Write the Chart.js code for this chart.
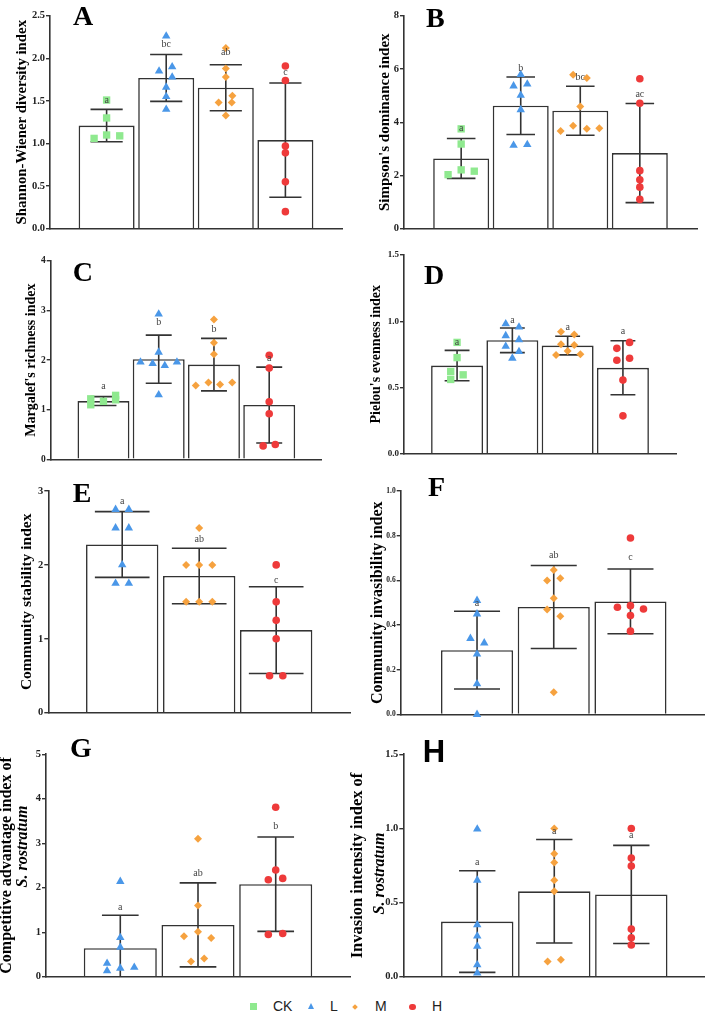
<!DOCTYPE html>
<html>
<head>
<meta charset="utf-8">
<script src="https://cdn.jsdelivr.net/npm/chart.js@4.4.1/dist/chart.umd.min.js"></script>
<style>
  html, body { margin: 0; padding: 0; background: #fff; }
  body { width: 709px; height: 1014px; position: relative; overflow: hidden; }
  .panel { position: absolute; }
  .lab { position: absolute; top: 998px; font-family: 'Liberation Sans', Arial, sans-serif; font-size: 14px; line-height: 17px; color: #222; }
  .sym { position: absolute; }
</style>
</head>
<body>
<div id="legend"></div>
<script>
// groups and marker styles
const groups = ['CK', 'L', 'M', 'H']
const groupColors = ['#8fe98f', '#4a97e8', '#f6a23f', '#ee3a3a']
const groupStyles = ['rect', 'triangle', 'rectRot', 'circle']
const groupRadius = [5.2, 4.9, 4, 3.8]

// A - Shannon-Wiener diversity index
const aGroups = ['CK', 'L', 'M', 'H']
const aMeans = [1.21, 1.77, 1.655, 1.04]
const aSd = [0.19, 0.275, 0.27, 0.67]
const aPoints = [[1.51, 1.30, 1.10, 1.06, 1.09], [2.26, 1.85, 1.90, 1.78, 1.66, 1.55, 1.40], [2.12, 1.88, 1.78, 1.48, 1.56, 1.48, 1.33], [1.91, 1.74, 0.97, 0.89, 0.55, 0.20]]
const aJitter = [[0, 0, 0, -0.21, 0.22], [0, -0.12, 0.1, 0.1, 0, 0, 0], [0, 0, 0, -0.12, 0.11, 0.1, 0], [0, 0, 0, 0, 0, 0]]
const aLetters = ['a', 'bc', 'ab', 'c']
const aLetterY = [1.51, 2.16, 2.07, 1.84]
const aTicks = ['0.0', '0.5', '1.0', '1.5', '2.0', '2.5']

// B - Simpson's dominance index
const bGroups = ['CK', 'L', 'M', 'H']
const bMeans = [2.64, 4.62, 4.43, 2.84]
const bSd = [0.75, 1.08, 0.92, 1.86]
const bPoints = [[3.75, 3.18, 2.03, 2.21, 2.16], [5.79, 5.36, 5.43, 5.01, 4.47, 3.13, 3.16], [5.78, 5.66, 4.59, 3.87, 3.67, 3.75, 3.77], [5.63, 4.71, 2.18, 1.84, 1.56, 1.10]]
const bJitter = [[0, 0, -0.22, 0, 0.22], [0, -0.12, 0.11, 0, 0, -0.12, 0.11], [-0.12, 0.11, 0, -0.12, -0.33, 0.11, 0.32], [0, 0, 0, 0, 0, 0]]
const bLetters = ['a', 'b', 'bc', 'ac']
const bLetterY = [3.75, 6.04, 5.67, 5.04]
const bTicks = ['0', '2', '4', '6', '8']

// C - Margalef's richness index
const cGroups = ['CK', 'L', 'M', 'H']
const cMeans = [1.175, 2.02, 1.91, 1.095]
const cSd = [0.09, 0.485, 0.53, 0.765]
const cPoints = [[1.10, 1.22, 1.17, 1.20, 1.29], [2.93, 2.16, 1.96, 1.93, 1.89, 1.96, 1.30], [2.82, 2.35, 2.12, 1.49, 1.55, 1.51, 1.55], [2.10, 1.84, 1.16, 0.92, 0.27, 0.30]]
const cJitter = [[-0.23, -0.23, 0, 0.22, 0.22], [0, 0, -0.33, -0.11, 0.11, 0.33, 0], [0, 0, 0, -0.33, -0.1, 0.11, 0.33], [0, 0, 0, 0, -0.11, 0.11]]
const cLetters = ['a', 'b', 'b', 'a']
const cLetterY = [1.47, 2.76, 2.62, 2.03]
const cTicks = ['0', '1', '2', '3', '4']

// D - Pielou's evenness index
const dGroups = ['CK', 'L', 'M', 'H']
const dMeans = [0.665, 0.856, 0.816, 0.648]
const dSd = [0.115, 0.093, 0.07, 0.204]
const dPoints = [[0.84, 0.725, 0.62, 0.56, 0.595], [0.98, 0.955, 0.89, 0.86, 0.81, 0.77, 0.72], [0.92, 0.90, 0.825, 0.82, 0.775, 0.745, 0.75], [0.795, 0.84, 0.705, 0.72, 0.555, 0.285]]
const dJitter = [[0, 0, -0.115, -0.115, 0.11], [-0.12, 0.12, -0.12, 0.12, -0.12, 0.12, 0], [-0.12, 0.12, -0.12, 0.12, 0, -0.21, 0.23], [-0.11, 0.12, -0.11, 0.12, 0, 0]]
const dLetters = ['a', 'a', 'a', 'a']
const dLetterY = [0.84, 1.01, 0.95, 0.92]
const dTicks = ['0.0', '0.5', '1.0', '1.5']

// E - Community stability index
const eGroups = ['L', 'M', 'H']
const eMeans = [2.276, 1.85, 1.118]
const eSd = [0.445, 0.375, 0.587]
const ePoints = [[2.75, 2.75, 2.5, 2.5, 2.0, 1.75, 1.75], [2.5, 2.0, 2.0, 2.0, 1.5, 1.5, 1.5], [2.0, 1.5, 1.25, 1.0, 0.5, 0.5]]
const eJitter = [[-0.086, 0.086, -0.086, 0.086, 0, -0.086, 0.086], [0, -0.17, 0, 0.17, -0.17, 0, 0.17], [0, 0, 0, 0, -0.086, 0.086]]
const eLetters = ['a', 'ab', 'c']
const eLetterY = [2.857, 2.344, 1.786]
const eTicks = ['0', '1', '2', '3']

// F - Community invasibility index
const fGroups = ['L', 'M', 'H']
const fMeans = [0.288, 0.481, 0.506]
const fSd = [0.174, 0.186, 0.145]
const fPoints = [[0.51, 0.45, 0.34, 0.32, 0.27, 0.137, 0.0], [0.647, 0.60, 0.61, 0.52, 0.47, 0.44, 0.10], [0.79, 0.48, 0.487, 0.472, 0.443, 0.373]]
const fJitter = [[0, 0, -0.086, 0.094, 0, 0, 0], [0, -0.086, 0.086, 0, -0.086, 0.086, 0], [0, -0.17, 0, 0.17, 0, 0]]
const fLetters = ['a', 'ab', 'c']
const fLetterY = [0.498, 0.711, 0.704]
const fTicks = ['0.0', '0.2', '0.4', '0.6', '0.8', '1.0']

// G - Competitive advantage index of S. rostratum
const gGroups = ['L', 'M', 'H']
const gMeans = [0.64, 1.165, 2.08]
const gSd = [0.74, 0.945, 1.06]
const gPoints = [[2.14, 0.88, 0.66, 0.30, 0.13, 0.19, 0.21], [3.10, 1.60, 1.01, 0.91, 0.87, 0.34, 0.41], [3.81, 2.40, 2.18, 2.21, 0.95, 0.97]]
const gJitter = [[0, 0, 0, -0.17, -0.17, 0, 0.18], [0, 0, 0, -0.18, 0.17, -0.09, 0.08], [0, 0, -0.095, 0.09, -0.095, 0.09]]
const gLetters = ['a', 'ab', 'b']
const gLetterY = [1.55, 2.33, 3.37]
const gTicks = ['0', '1', '2', '3', '4', '5']

// H - Invasion intensity index of S. rostratum
const hGroups = ['L', 'M', 'H']
const hMeans = [0.372, 0.576, 0.555]
const hSd = [0.343, 0.349, 0.331]
const hPoints = [[0.996, 0.651, 0.35, 0.274, 0.205, 0.08, 0.025], [1.0, 0.829, 0.771, 0.651, 0.577, 0.102, 0.114], [1.0, 0.80, 0.746, 0.321, 0.263, 0.214]]
const hJitter = [[0, 0, 0, 0, 0, 0, 0], [0, 0, 0, 0, 0, -0.086, 0.086], [0, 0, 0, 0, 0, 0]]
const hLetters = ['a', 'a', 'a']
const hLetterY = [0.771, 0.98, 0.954]
const hTicks = ['0.0', '0.5', '1.0', '1.5']

const serif = "'Liberation Serif', 'Times New Roman', serif"
const sans = "'Liberation Sans', Arial, sans-serif"
const ink = '#333'

// draws significance letters, panel tag and the italic second title line
const annotate = {
    id: 'annotate',
    afterDatasetsDraw(chart, args, o) {
        const { ctx, chartArea } = chart
        const xs = chart.scales.x, ys = chart.scales.y
        ctx.save()
        ctx.fillStyle = '#444'
        ctx.font = `10px ${serif}`
        ctx.textAlign = 'center'
        ctx.textBaseline = 'middle'
        o.letters.forEach((t, i) => ctx.fillText(t, xs.getPixelForValue(i + 1), ys.getPixelForValue(o.letterY[i])))

        ctx.fillStyle = '#000'
        ctx.font = o.tagFont
        ctx.textAlign = 'left'
        ctx.textBaseline = 'alphabetic'
        ctx.fillText(o.tag, chartArea.left + o.tagDx, chartArea.top + o.tagDy)

        if (o.sub) {
            ctx.translate(o.sub.x, (chartArea.top + chartArea.bottom) / 2 + o.sub.dy)
            ctx.rotate(-Math.PI / 2)
            ctx.textBaseline = 'middle'
            ctx.textAlign = 'center'
            ctx.font = `italic bold ${o.sub.size}px ${serif}`
            ctx.fillText('S. rostratum', 0, 0)
        }
        ctx.restore()
    }
}

const makePanel = (p) => {
    const g = p.geo
    const div = document.createElement('div')
    div.className = 'panel'
    div.style.left = g.left + 'px'
    div.style.top = g.top + 'px'
    const canvas = document.createElement('canvas')
    canvas.width = g.width
    canvas.height = g.height
    canvas.style.width = g.width + 'px'
    canvas.style.height = g.height + 'px'
    div.appendChild(canvas)
    document.body.appendChild(div)

    const datasets = []
    datasets.push({
        type: 'bar',
        data: p.means.map((m, i) => ({ x: i + 1, y: m })),
        backgroundColor: '#fff',
        borderColor: ink,
        borderWidth: 1.6,
        barPercentage: 0.94,
        categoryPercentage: 1,
        order: 3
    })

    // error bars as a broken line
    const err = []
    p.means.forEach((m, i) => {
        const x = i + 1, lo = m - p.sd[i], hi = m + p.sd[i], c = p.cap
        err.push({ x, y: lo }, { x, y: hi }, { x, y: null },
            { x: x - c, y: hi }, { x: x + c, y: hi }, { x, y: null },
            { x: x - c, y: lo }, { x: x + c, y: lo }, { x, y: null })
    })
    datasets.push({
        type: 'line',
        data: err,
        borderColor: ink,
        borderWidth: 1.6,
        pointRadius: 0,
        spanGaps: false,
        tension: 0,
        order: 2
    })

    p.points.forEach((vals, i) => {
        const k = groups.indexOf(p.groups[i])
        datasets.push({
            type: 'scatter',
            data: vals.map((v, j) => ({ x: i + 1 + p.jitter[i][j], y: v })),
            pointStyle: groupStyles[k],
            pointRadius: groupRadius[k],
            backgroundColor: groupColors[k],
            borderWidth: 0,
            clip: false,
            order: 1
        })
    })

    new Chart(canvas.getContext('2d'), {
        type: 'bar',
        data: { datasets },
        plugins: [annotate],
        options: {
            responsive: false,
            animation: false,
            events: [],
            layout: {
                padding: { left: 0, top: g.yTop - g.top, right: g.left + g.width - g.x1, bottom: g.top + g.height - g.yBot }
            },
            plugins: {
                legend: { display: false },
                tooltip: { enabled: false },
                annotate: { letters: p.letters, letterY: p.letterY, tag: p.tag, tagFont: p.tagFont, tagDx: p.tagDx, tagDy: p.tagDy, sub: p.sub }
            },
            scales: {
                x: {
                    type: 'linear',
                    min: p.xMin,
                    max: p.xMax,
                    offset: false,
                    afterBuildTicks: (s) => { s.ticks = p.groups.map((_, i) => ({ value: i + 1 })) },
                    afterFit: (s) => { s.height = 0 },
                    ticks: { display: false },
                    grid: { display: false },
                    border: { display: true, color: ink, width: 1.6 }
                },
                y: {
                    min: 0,
                    max: parseFloat(p.ticks[p.ticks.length - 1]),
                    afterBuildTicks: (s) => { s.ticks = p.ticks.map(t => ({ value: parseFloat(t) })) },
                    afterFit: (s) => { s.width = g.x0 - g.left },
                    ticks: {
                        callback: (v, i) => p.ticks[i],
                        font: { family: serif, weight: 'bold', size: p.tickSize },
                        color: '#222',
                        padding: 1
                    },
                    grid: { display: true, drawOnChartArea: false, drawTicks: true, tickLength: 4, color: ink, lineWidth: 1.4 },
                    border: { display: true, color: ink, width: 1.6 },
                    title: {
                        display: true,
                        text: p.title,
                        color: '#000',
                        font: { family: serif, weight: 'bold', size: p.titleSize, lineHeight: 1 },
                        padding: { top: p.titleX - p.titleSize / 2, bottom: 0 }
                    }
                }
            }
        }
    })
}

const panels = [
    { tag: 'A', groups: aGroups, means: aMeans, sd: aSd, points: aPoints, jitter: aJitter, letters: aLetters, letterY: aLetterY, ticks: aTicks,
      title: 'Shannon-Wiener diversity index', titleSize: 14.8, titleX: 21.7, tickSize: 10.5, cap: 0.27, xMin: 0.05, xMax: 4.95,
      tagFont: `bold 28px ${serif}`, tagDx: 23, tagDy: 9.5,
      geo: { left: 0, top: 0, width: 355, height: 236, x0: 50, x1: 342, yTop: 15.7, yBot: 230.7 } },
    { tag: 'B', groups: bGroups, means: bMeans, sd: bSd, points: bPoints, jitter: bJitter, letters: bLetters, letterY: bLetterY, ticks: bTicks,
      title: "Simpson's dominance index", titleSize: 15, titleX: 30, tickSize: 10.5, cap: 0.24, xMin: 0.04, xMax: 4.96,
      tagFont: `bold 28px ${serif}`, tagDx: 22, tagDy: 11,
      geo: { left: 355, top: 0, width: 354, height: 236, x0: 404, x1: 697, yTop: 15.7, yBot: 230.7 } },
    { tag: 'C', groups: cGroups, means: cMeans, sd: cSd, points: cPoints, jitter: cJitter, letters: cLetters, letterY: cLetterY, ticks: cTicks,
      title: "Margalef's richness index", titleSize: 14, titleX: 31.7, tickSize: 9.5, cap: 0.235, xMin: 0.045, xMax: 4.95,
      tagFont: `bold 28px ${serif}`, tagDx: 22, tagDy: 19.7,
      geo: { left: 0, top: 238, width: 355, height: 228, x0: 50.7, x1: 321.7, yTop: 261, yBot: 461.7 } },
    { tag: 'D', groups: dGroups, means: dMeans, sd: dSd, points: dPoints, jitter: dJitter, letters: dLetters, letterY: dLetterY, ticks: dTicks,
      title: "Pielou's evenness index", titleSize: 14, titleX: 21.7, tickSize: 9, cap: 0.225, xMin: 0.04, xMax: 4.96,
      tagFont: `bold 28px ${serif}`, tagDx: 20, tagDy: 29.3,
      geo: { left: 355, top: 238, width: 354, height: 222, x0: 404, x1: 676, yTop: 255, yBot: 455 } },
    { tag: 'E', groups: eGroups, means: eMeans, sd: eSd, points: ePoints, jitter: eJitter, letters: eLetters, letterY: eLetterY, ticks: eTicks,
      title: 'Community stability index', titleSize: 15.5, titleX: 26.7, tickSize: 10.5, cap: 0.355, xMin: 0.04, xMax: 3.96,
      tagFont: `bold 28px ${serif}`, tagDx: 24.4, tagDy: 10.7,
      geo: { left: 0, top: 468, width: 355, height: 252, x0: 48.3, x1: 351.7, yTop: 491, yBot: 715 } },
    { tag: 'F', groups: fGroups, means: fMeans, sd: fSd, points: fPoints, jitter: fJitter, letters: fLetters, letterY: fLetterY, ticks: fTicks,
      title: 'Community invasibility index', titleSize: 16, titleX: 23.3, tickSize: 7.5, cap: 0.3, xMin: 0.005, xMax: 3.96,
      tagFont: `bold 28px ${serif}`, tagDx: 27.3, tagDy: 5,
      geo: { left: 355, top: 468, width: 354, height: 252, x0: 400.7, x1: 707, yTop: 491, yBot: 715 } },
    { tag: 'G', groups: gGroups, means: gMeans, sd: gSd, points: gPoints, jitter: gJitter, letters: gLetters, letterY: gLetterY, ticks: gTicks,
      title: 'Competitive advantage index of', titleSize: 16, titleX: 7, tickSize: 10.5, cap: 0.236, xMin: 0.044, xMax: 3.956,
      tagFont: `bold 28px ${serif}`, tagDx: 24, tagDy: 2.7, sub: { x: 23, dy: -19, size: 16 },
      geo: { left: 0, top: 722, width: 355, height: 262, x0: 46, x1: 350, yTop: 754.3, yBot: 978.7 } },
    { tag: 'H', groups: hGroups, means: hMeans, sd: hSd, points: hPoints, jitter: hJitter, letters: hLetters, letterY: hLetterY, ticks: hTicks,
      title: 'Invasion intensity index of', titleSize: 16.5, titleX: 10, tickSize: 10.5, cap: 0.236, xMin: 0.04, xMax: 3.945,
      tagFont: `bold 31px ${sans}`, tagDx: 19.4, tagDy: 8, sub: { x: 32, dy: 8, size: 16 },
      geo: { left: 348, top: 722, width: 361, height: 262, x0: 403.3, x1: 706.7, yTop: 754.3, yBot: 978.7 } }
]

panels.forEach(makePanel)

// legend below the panels
const legend = document.getElementById('legend')
const symX = [250, 308, 353, 409]
const labX = [273, 330, 375, 432]
groups.forEach((name, i) => {
    const s = document.createElement('div')
    s.className = 'sym'
    const c = groupColors[i]
    if (groupStyles[i] === 'rect') {
        Object.assign(s.style, { left: symX[i] + 'px', top: '1003px', width: '7px', height: '7px', background: c })
    } else if (groupStyles[i] === 'triangle') {
        Object.assign(s.style, { left: symX[i] + 'px', top: '1003px', width: 0, height: 0, borderLeft: '3.5px solid transparent', borderRight: '3.5px solid transparent', borderBottom: '6px solid ' + c })
    } else if (groupStyles[i] === 'rectRot') {
        Object.assign(s.style, { left: symX[i] + 'px', top: '1004.5px', width: '4px', height: '4px', background: c, transform: 'rotate(45deg)' })
    } else {
        Object.assign(s.style, { left: symX[i] + 'px', top: '1003.5px', width: '6.5px', height: '6.5px', borderRadius: '50%', background: c })
    }
    legend.appendChild(s)
    const t = document.createElement('div')
    t.className = 'lab'
    t.style.left = labX[i] + 'px'
    t.textContent = name
    legend.appendChild(t)
})
</script>
</body>
</html>
